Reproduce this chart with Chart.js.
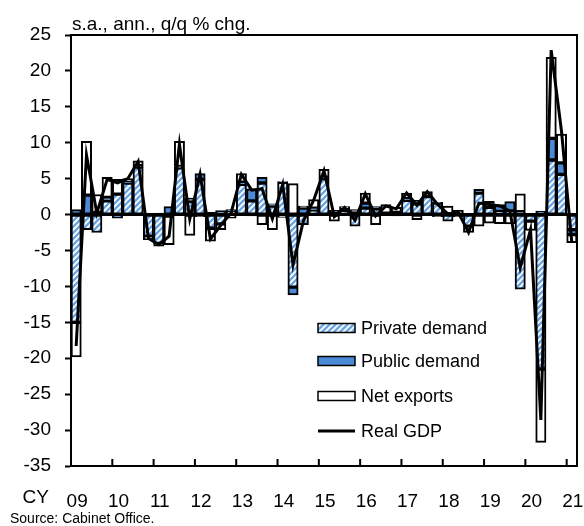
<!DOCTYPE html>
<html>
<head>
<meta charset="utf-8">
<script src="https://cdn.jsdelivr.net/npm/chart.js@4.4.1/dist/chart.umd.min.js"></script>
<style>
  html, body { margin: 0; padding: 0; background: #fff; }
</style>
</head>
<body>
<canvas id="gdpChart" width="584" height="526"></canvas>
<script>
// ====================================
// DATA (s.a., annualized q/q % chg, contributions)
// ====================================

const quarters = [
    '09Q1', '09Q2', '09Q3', '09Q4', '10Q1', '10Q2', '10Q3', '10Q4',
    '11Q1', '11Q2', '11Q3', '11Q4', '12Q1', '12Q2', '12Q3', '12Q4',
    '13Q1', '13Q2', '13Q3', '13Q4', '14Q1', '14Q2', '14Q3', '14Q4',
    '15Q1', '15Q2', '15Q3', '15Q4', '16Q1', '16Q2', '16Q3', '16Q4',
    '17Q1', '17Q2', '17Q3', '17Q4', '18Q1', '18Q2', '18Q3', '18Q4',
    '19Q1', '19Q2', '19Q3', '19Q4', '20Q1', '20Q2', '20Q3', '20Q4',
    '21Q1'
];

const yearLabels = ['09', '10', '11', '12', '13', '14', '15', '16', '17', '18', '19', '20', '21'];

const privateDemand = [
    -15.0, -2.1, -2.5, 1.9,
    2.85, 4.4, 6.6, -3.0,
    -4.0, -0.2, 6.5, 1.8,
    4.9, -1.9, -1.3, 0.4,
    4.2, 1.9, 4.4, 1.2,
    4.5, -10.1, -1.4, 0.6,
    5.0, 0.2, 0.5, -1.6,
    0.9, 0.8, 0.1, 0.3,
    2.0, 1.5, 2.5, 1.6,
    -0.9, 0.6, -1.6, 3.0,
    1.0, 0.45, 0.5, -10.4,
    -0.9, -21.5, 7.6, 5.6,
    -2.1
];

const publicDemand = [
    0.7, 2.7, 0.3, 0.5,
    -0.5, 0.1, 0.2, 0.1,
    0.2, 1.1, 0.2, 0.5,
    0.8, 0.3, 0.55, 0.3,
    0.3, 1.7, 0.8, 0.3,
    0.1, -1.1, 0.9, 0.3,
    0.2, 0.4, 0.4, 0.3,
    0.7, 0.3, 0.1, -0.2,
    0.2, 0.5, 0.0, 0.1,
    0.1, 0.0, 0.0, 0.5,
    0.85, 0.95, 1.3, 0.4,
    0.1, 0.5, 3.0, 1.6,
    -0.7
];

const netExports = [
    -4.8, 7.5, 2.5, 2.8,
    2.05, 0.5, 0.7, -0.5,
    -0.4, -4.0, 3.5, -2.9,
    -0.3, -1.8, -0.8, -0.5,
    1.2, -0.2, -1.4, -2.1,
    -0.4, 4.3, 0.3, 1.2,
    1.1, -0.9, 0.2, 0.4,
    1.4, -1.4, 1.2, 0.7,
    0.8, -0.7, 0.7, -0.3,
    1.1, -0.3, -0.9, -1.6,
    -1.2, -1.25, -1.3, 2.5,
    -1.3, -10.2, 11.3, 4.0,
    -1.1
];

const realGdp = [
    -18.3, 8.3, 0.2, 4.9,
    4.4, 5.0, 7.4, -3.3,
    -4.2, -3.0, 9.8, -0.6,
    5.6, -3.4, -1.5, 0.2,
    5.6, 3.4, 3.6, -0.6,
    4.2, -7.0, -0.9, 2.0,
    6.1, -0.3, 1.0, -0.8,
    2.9, -0.2, 1.2, 0.8,
    3.0, 1.3, 3.2, 1.4,
    0.1, 0.3, -2.5, 1.6,
    1.4, 1.2, 0.5, -7.4,
    -2.1, -28.6, 22.9, 11.6,
    -3.9
];

const FONT = "'Liberation Sans', Arial, sans-serif";
const SOLID_BLUE = '#4a8ad6';
const HATCH_BLUE = '#6aa6e6';

// Hatch pattern for private demand
function makeHatch() {
    const c = document.createElement('canvas');
    c.width = 6;
    c.height = 6;
    const g = c.getContext('2d');
    g.fillStyle = '#ffffff';
    g.fillRect(0, 0, 6, 6);
    g.strokeStyle = HATCH_BLUE;
    g.lineWidth = 2.4;
    g.beginPath();
    g.moveTo(-1, 7); g.lineTo(7, -1);
    g.moveTo(-4, 4); g.lineTo(4, -4);
    g.moveTo(2, 10); g.lineTo(10, 2);
    g.stroke();
    return g.createPattern(c, 'repeat');
}

const hatch = makeHatch();

// Frame, zero line, inner x ticks, legend and notes
const decorPlugin = {
    id: 'decor',
    beforeDatasetDraw(chart, args) {
        if (args.meta.type !== 'line') return;
        const ctx = chart.ctx;
        const area = chart.chartArea;
        const y0 = chart.scales.y.getPixelForValue(0);
        ctx.save();
        ctx.strokeStyle = '#000';
        ctx.lineWidth = 3;
        ctx.beginPath();
        ctx.moveTo(area.left, y0);
        ctx.lineTo(area.right, y0);
        ctx.stroke();
        ctx.restore();
    },
    afterDraw(chart) {
        const ctx = chart.ctx;
        const area = chart.chartArea;
        const x = chart.scales.x;
        ctx.save();
        ctx.strokeStyle = '#000';
        ctx.lineWidth = 2;

        // top and right edges
        ctx.beginPath();
        ctx.moveTo(area.left, area.top);
        ctx.lineTo(area.right, area.top);
        ctx.lineTo(area.right, area.bottom);
        ctx.stroke();

        // year ticks pointing up into the plot
        ctx.beginPath();
        for (let i = 4; i < quarters.length; i += 4) {
            const px = (x.getPixelForValue(i - 1) + x.getPixelForValue(i)) / 2;
            ctx.moveTo(px, area.bottom);
            ctx.lineTo(px, area.bottom - 7);
        }
        ctx.stroke();

        // legend
        const items = [
            { label: 'Private demand', fill: hatch, y: 328 },
            { label: 'Public demand', fill: SOLID_BLUE, y: 361 },
            { label: 'Net exports', fill: '#ffffff', y: 396 },
            { label: 'Real GDP', fill: null, y: 431 }
        ];
        ctx.font = '18px ' + FONT;
        ctx.textBaseline = 'middle';
        ctx.textAlign = 'left';
        items.forEach(item => {
            if (item.fill) {
                ctx.fillStyle = item.fill;
                ctx.fillRect(318, item.y - 4.5, 37, 9);
                ctx.lineWidth = 1.5;
                ctx.strokeRect(318, item.y - 4.5, 37, 9);
            } else {
                ctx.lineWidth = 3;
                ctx.beginPath();
                ctx.moveTo(318, item.y);
                ctx.lineTo(355, item.y);
                ctx.stroke();
            }
            ctx.fillStyle = '#000';
            ctx.fillText(item.label, 361, item.y + 1);
        });

        // unit note, axis prefix and source
        ctx.fillStyle = '#000';
        ctx.textBaseline = 'alphabetic';
        ctx.font = '19px ' + FONT;
        ctx.fillText('s.a., ann., q/q % chg.', 72, 30);
        ctx.textAlign = 'right';
        ctx.fillText('CY', 49, 503);
        ctx.textAlign = 'left';
        ctx.font = '14px ' + FONT;
        ctx.fillText('Source: Cabinet Office.', 10, 523);
        ctx.restore();
    }
};

const barCommon = {
    borderColor: '#000',
    borderWidth: 2,
    borderSkipped: false,
    barPercentage: 1.0,
    categoryPercentage: 1.0,
    stack: 'demand'
};

new Chart(document.getElementById('gdpChart'), {
    type: 'bar',
    data: {
        labels: quarters,
        datasets: [
            {
                type: 'line',
                label: 'Real GDP',
                data: realGdp,
                borderColor: '#000',
                borderWidth: 3,
                pointRadius: 0,
                tension: 0,
                stack: 'gdp',
                order: 0
            },
            Object.assign({ label: 'Private demand', data: privateDemand, backgroundColor: hatch, order: 1 }, barCommon),
            Object.assign({ label: 'Public demand', data: publicDemand, backgroundColor: SOLID_BLUE, order: 2 }, barCommon),
            Object.assign({ label: 'Net exports', data: netExports, backgroundColor: '#ffffff', order: 3 }, barCommon)
        ]
    },
    options: {
        responsive: false,
        animation: false,
        layout: { autoPadding: false, padding: { top: 35, right: 7, left: 0, bottom: 0 } },
        plugins: {
            legend: { display: false },
            tooltip: { enabled: false }
        },
        scales: {
            x: {
                stacked: true,
                offset: true,
                grid: { display: false },
                border: { display: true, color: '#000', width: 2 },
                ticks: {
                    autoSkip: false,
                    maxRotation: 0,
                    padding: 16,
                    labelOffset: 1,
                    color: '#000',
                    font: { family: FONT, size: 19 },
                    callback: (value, index) => index % 4 === 0 ? yearLabels[index / 4] : null
                },
                afterFit: scale => {
                    scale.height = 60;
                    scale.paddingLeft = 0;
                    scale.paddingRight = 0;
                }
            },
            y: {
                stacked: true,
                min: -35,
                max: 25,
                ticks: {
                    stepSize: 5,
                    padding: 14,
                    color: '#000',
                    font: { family: FONT, size: 19 }
                },
                grid: {
                    drawOnChartArea: false,
                    drawTicks: true,
                    tickLength: 6,
                    tickColor: '#000',
                    tickWidth: 2
                },
                border: { display: true, color: '#000', width: 2 },
                afterFit: scale => {
                    scale.width = 71;
                    scale.paddingTop = 0;
                    scale.paddingBottom = 0;
                }
            }
        }
    },
    plugins: [decorPlugin]
});
</script>
</body>
</html>
